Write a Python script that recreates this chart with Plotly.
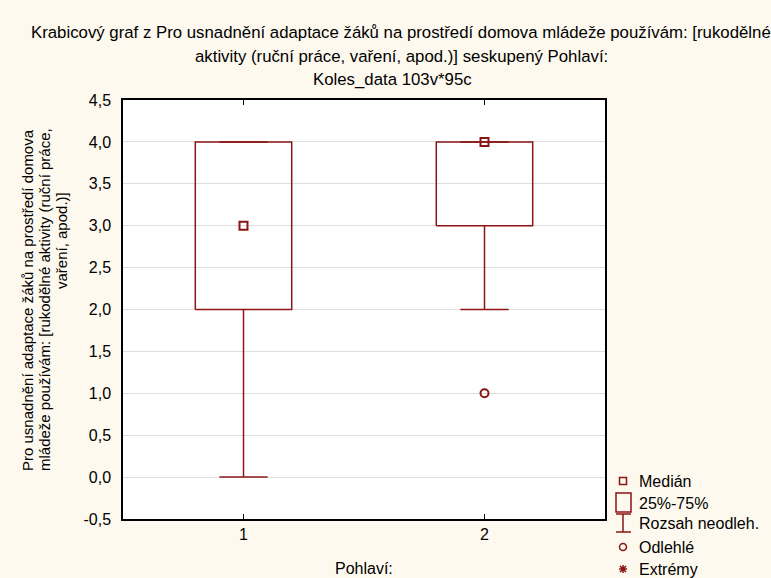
import plotly.graph_objects as go

# ---------------- data ----------------
categories = [1, 2]
q1 = [2.0, 3.0]
q3 = [4.0, 4.0]
medians = [3.0, 4.0]
whisker_low = [0.0, 2.0]
whisker_high = [4.0, 4.0]
outlier_x = [2]
outlier_y = [1.0]
y_ticks = [-0.5, 0.0, 0.5, 1.0, 1.5, 2.0, 2.5, 3.0, 3.5, 4.0, 4.5]
y_tick_labels = ["-0,5", "0,0", "0,5", "1,0", "1,5", "2,0", "2,5", "3,0", "3,5", "4,0", "4,5"]
x_ticks = [1, 2]
x_tick_labels = ["1", "2"]
legend_labels = ["Medián", "25%-75%", "Rozsah neodleh.", "Odlehlé", "Extrémy"]

title_line1 = "Krabicový graf z Pro usnadnění adaptace žáků na prostředí domova mládeže používám: [rukodělné"
title_line2 = "aktivity (ruční práce, vaření, apod.)] seskupený Pohlaví:"
title_line3 = "Koles_data 103v*95c"
y_title_lines = ["Pro usnadnění adaptace žáků na prostředí domova",
                 "mládeže používám: [rukodělné aktivity (ruční práce,",
                 "vaření, apod.)]"]
x_title = "Pohlaví:"

# ---------------- style ----------------
W, H = 771, 578
L, R, T, B = 123, 605, 100, 519
RED = "#8B1414"
BG = "#FDF9EE"
FONT = "Liberation Sans"
FS_TITLE = 16.8
FS_YT = 15
FS = 16
BOX_HALF = 0.2
CAP_HALF = 0.1
LW = 1.5

fig = go.Figure()

for c, lo, a, b, hi in zip(categories, whisker_low, q1, q3, whisker_high):
    fig.add_trace(go.Scatter(
        x=[c - BOX_HALF, c + BOX_HALF, c + BOX_HALF, c - BOX_HALF, c - BOX_HALF],
        y=[a, a, b, b, a], mode="lines",
        line=dict(color=RED, width=LW), hoverinfo="skip", showlegend=False))
    fig.add_trace(go.Scatter(
        x=[c, c, None, c - CAP_HALF, c + CAP_HALF, None,
           c, c, None, c - CAP_HALF, c + CAP_HALF],
        y=[a, lo, None, lo, lo, None, b, hi, None, hi, hi], mode="lines",
        line=dict(color=RED, width=LW), hoverinfo="skip", showlegend=False))

fig.add_trace(go.Scatter(
    x=categories, y=medians, mode="markers",
    marker=dict(symbol="square-open", size=8, color=RED, line=dict(width=2)),
    showlegend=False))
fig.add_trace(go.Scatter(
    x=outlier_x, y=outlier_y, mode="markers",
    marker=dict(symbol="circle-open", size=8, color=RED, line=dict(width=2)),
    showlegend=False))


def px(xp):
    return (xp - L) / (R - L)


def py(yp):
    return (B - yp) / (B - T)


shapes = []
annotations = []


def text(t, x, y, size, xanchor="center", angle=0):
    annotations.append(dict(text=t, xref="paper", yref="paper", x=px(x), y=py(y),
                            xanchor=xanchor, yanchor="middle", showarrow=False,
                            textangle=angle,
                            font=dict(size=size, color="black", family=FONT)))


# legend (manual)
mx = 623
leg_rows = [481, 503, 523, 547, 569]
shapes.append(dict(type="rect", xref="paper", yref="paper",
                   x0=px(mx - 3.5), x1=px(mx + 3.5), y0=py(481 + 3.5), y1=py(481 - 3.5),
                   line=dict(color=RED, width=1.5)))
shapes.append(dict(type="rect", xref="paper", yref="paper",
                   x0=px(616), x1=px(631), y0=py(512), y1=py(493),
                   line=dict(color=RED, width=1.5)))
shapes.append(dict(type="path", xref="paper", yref="paper",
                   path=f"M {px(616)} {py(514)} L {px(631)} {py(514)} "
                        f"M {px(mx)} {py(514)} L {px(mx)} {py(532)} "
                        f"M {px(616)} {py(532)} L {px(631)} {py(532)}",
                   line=dict(color=RED, width=1.5)))
shapes.append(dict(type="circle", xref="paper", yref="paper",
                   x0=px(mx - 3.5), x1=px(mx + 3.5), y0=py(547 + 3.5), y1=py(547 - 3.5),
                   line=dict(color=RED, width=1.5)))
ay = 569
s = 4
shapes.append(dict(type="path", xref="paper", yref="paper",
                   path=f"M {px(mx - s)} {py(ay)} L {px(mx + s)} {py(ay)} "
                        f"M {px(mx)} {py(ay - s)} L {px(mx)} {py(ay + s)} "
                        f"M {px(mx - 3)} {py(ay - 3)} L {px(mx + 3)} {py(ay + 3)} "
                        f"M {px(mx - 3)} {py(ay + 3)} L {px(mx + 3)} {py(ay - 3)}",
                   line=dict(color=RED, width=1.5)))
for lbl, ry in zip(legend_labels, leg_rows):
    text(lbl, 637, ry, FS, xanchor="left")

# titles
text(title_line1, 29, 33, FS_TITLE, xanchor="left")
text(title_line2, 401, 56, FS_TITLE)
text(title_line3, 392, 80, FS_TITLE)
for t, (xx, yy) in zip(y_title_lines, [(27, 300), (44, 300), (61, 241)]):
    text(t, xx, yy, FS_YT, angle=-90)
text(x_title, 364, 568, FS)

fig.update_layout(
    width=W, height=H,
    margin=dict(l=L, r=W - R, t=T, b=H - B, pad=0),
    paper_bgcolor=BG, plot_bgcolor="white",
    showlegend=False,
    font=dict(family=FONT, size=FS, color="black"),
    shapes=shapes, annotations=annotations,
    xaxis=dict(range=[0.5, 2.5], tickvals=x_ticks, ticktext=x_tick_labels,
               ticks="inside", ticklen=5, tickcolor="black", mirror="ticks",
               showline=True, linecolor="black", linewidth=1.5, showgrid=False,
               zeroline=False, tickfont=dict(size=FS, family=FONT)),
    yaxis=dict(range=[-0.5, 4.5], tickvals=y_ticks, ticktext=y_tick_labels,
               showline=True, linecolor="black", linewidth=1.5, mirror=True,
               showgrid=True, gridcolor="#DDDDDD", gridwidth=1, zeroline=False,
               ticks="", ticklabelstandoff=7, tickfont=dict(size=FS, family=FONT)),
)

fig.write_html("out.html")
